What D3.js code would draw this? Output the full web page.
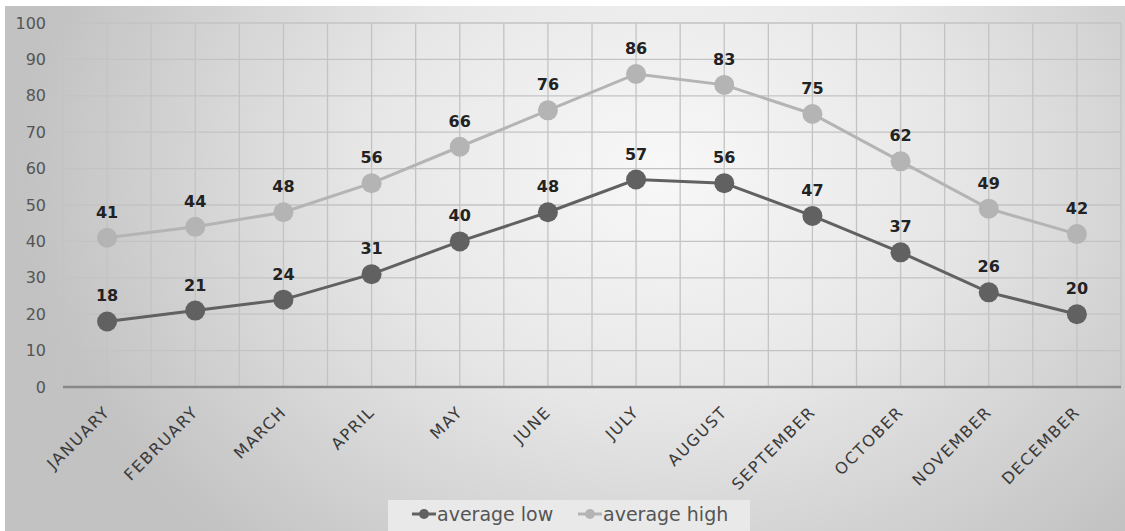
<!DOCTYPE html>
<html><head><meta charset="utf-8">
<script src="https://cdn.jsdelivr.net/npm/d3@7"></script>
<style>
html,body{margin:0;padding:0;background:#fff;}
svg{display:block;}
</style></head>
<body>
<svg id="chart" width="1125" height="531"></svg>
<script>
const months = ["JANUARY","FEBRUARY","MARCH","APRIL","MAY","JUNE","JULY","AUGUST","SEPTEMBER","OCTOBER","NOVEMBER","DECEMBER"];
const averageLow = [18,21,24,31,40,48,57,56,47,37,26,20];
const averageHigh = [41,44,48,56,66,76,86,83,75,62,49,42];
const yTicks = [0,10,20,30,40,50,60,70,80,90,100];
const seriesNames = ["average low","average high"];

const svg = d3.select("#chart");
const W = 1125, H = 531;
const defs = svg.append("defs");
const rg = defs.append("radialGradient").attr("id","bg")
  .attr("gradientUnits","userSpaceOnUse")
  .attr("cx",0).attr("cy",0).attr("r",640)
  .attr("gradientTransform","translate(660,170) scale(1,0.8)");
rg.append("stop").attr("offset","0").attr("stop-color","#f8f8f8");
rg.append("stop").attr("offset","0.45").attr("stop-color","#e7e7e7");
rg.append("stop").attr("offset","1").attr("stop-color","#c2c2c2");

svg.append("rect").attr("x",5).attr("y",6).attr("width",W-5).attr("height",H-6).attr("fill","url(#bg)");

const margin = {left:63, right:4};
const x = d3.scaleBand().domain(months).range([margin.left, W - margin.right]).paddingInner(0).paddingOuter(0);
const y = d3.scaleLinear().domain([0,100]).range([387, 23]);

const g = svg.append("g");
g.append("g").selectAll("line").data(yTicks.filter(d=>d>0)).join("line")
  .attr("x1", x.range()[0]).attr("x2", x.range()[1])
  .attr("y1", d=>y(d)).attr("y2", d=>y(d))
  .attr("stroke","#c3c3c3").attr("stroke-width",1.3);
const vlines = [];
months.forEach(m => { vlines.push(x(m)); vlines.push(x(m) + x.bandwidth()/2); });
vlines.push(x.range()[1]);
g.append("g").selectAll("line").data(vlines).join("line")
  .attr("x1", d=>d).attr("x2", d=>d)
  .attr("y1", y(100)).attr("y2", y(0))
  .attr("stroke","#c3c3c3").attr("stroke-width",1.3);
g.append("line").attr("x1", x.range()[0]).attr("x2", x.range()[1])
  .attr("y1", y(0)).attr("y2", y(0)).attr("stroke","#888").attr("stroke-width",2.5);

g.append("g").selectAll("text").data(yTicks).join("text")
  .attr("x", 46).attr("y", d=>y(d)).attr("dy","0.35em")
  .attr("text-anchor","end")
  .attr("font-family","'DejaVu Sans', sans-serif").attr("font-size",16)
  .attr("fill","#555").text(d=>d);

g.append("g").selectAll("text").data(months).join("text")
  .attr("transform", d=>`translate(${x(d)+x.bandwidth()/2+4},${y(0)+26}) rotate(-45)`)
  .attr("text-anchor","end")
  .attr("font-family","'DejaVu Sans', sans-serif").attr("font-size",16)
  .attr("letter-spacing",1.6)
  .attr("fill","#3a3a3a").text(d=>d);

const cx = m => x(m) + x.bandwidth()/2;
const series = [
  {name: seriesNames[1], values: averageHigh, color:"#b4b4b4"},
  {name: seriesNames[0], values: averageLow, color:"#616161"}
];
const line = d3.line().x((d,i)=>cx(months[i])).y(d=>y(d));
series.forEach(s => {
  g.append("path").datum(s.values).attr("d", line)
    .attr("fill","none").attr("stroke", s.color).attr("stroke-width",3);
  g.append("g").selectAll("circle").data(s.values).join("circle")
    .attr("cx",(d,i)=>cx(months[i])).attr("cy", d=>y(d)).attr("r",10)
    .attr("fill", s.color);
  g.append("g").selectAll("text").data(s.values).join("text")
    .attr("x",(d,i)=>cx(months[i])).attr("y", d=>y(d)-20)
    .attr("text-anchor","middle")
    .attr("font-family","'DejaVu Sans', sans-serif").attr("font-weight","bold").attr("font-size",16)
    .attr("fill","#222").text(d=>d);
});

const lg = svg.append("g");
lg.append("rect").attr("x",388).attr("y",500).attr("width",362).attr("height",31).attr("fill","#e9e9e9");
const legendItems = [
  {name: seriesNames[0], color:"#616161", x0:412},
  {name: seriesNames[1], color:"#b4b4b4", x0:578}
];
legendItems.forEach(it => {
  lg.append("line").attr("x1",it.x0).attr("x2",it.x0+24).attr("y1",514).attr("y2",514)
    .attr("stroke",it.color).attr("stroke-width",3);
  lg.append("circle").attr("cx",it.x0+12).attr("cy",514).attr("r",5).attr("fill",it.color);
  lg.append("text").attr("x",it.x0+25).attr("y",514).attr("dy","0.35em")
    .attr("font-family","'DejaVu Sans', sans-serif").attr("font-size",19)
    .attr("fill","#555").text(it.name);
});
</script>
</body></html>
